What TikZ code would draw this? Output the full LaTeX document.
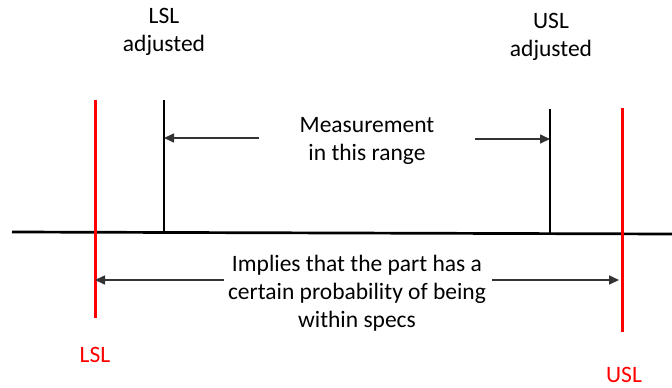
\documentclass[tikz,border=0pt]{standalone}
\usepackage{fontspec}
\setmainfont{Carlito}
\usetikzlibrary{arrows.meta}

\begin{document}
\begin{tikzpicture}[x=1pt,y=-1pt,
  lbl/.style={font=\fontsize{23.5}{28}\selectfont,align=center,inner sep=0pt},
  lim/.style={red,line width=3pt},
  adj/.style={black,line width=2.6pt},
  pnt/.style={-{Triangle[length=10pt,width=9pt]},line width=1.6pt,black!80}]
\useasboundingbox (0,0) rectangle (672,388);
% axis
\draw[line width=2.7pt] (12,232) -- (672,234);
% spec limits and adjusted limits
\draw[lim] (95,100) coordinate (lslT) -- (95,318) coordinate (lslB);
\draw[lim] (622,108) coordinate (uslT) -- (622,332) coordinate (uslB);
\draw[adj] (164,100) coordinate (adjL) -- (164,233);
\draw[adj] (550,109) coordinate (adjU) -- (550,234);
% labels
\node[lbl] (lsladj) at (164,32) {LSL\\adjusted};
\node[lbl] (usladj) at (551,37) {USL\\adjusted};
\node[lbl,red] (lsl) at (95,355) {LSL};
\node[lbl,red] (usl) at (624,375) {USL};
\node[lbl] (meas) at (367,141) {Measurement\\in this range};
\node[lbl] (impl) at (357,293) {Implies that the part has a\\certain probability of being\\within specs};
% arrows
\coordinate (mL) at (259,138);
\coordinate (mR) at (475,139);
\coordinate (iL) at (224,280);
\coordinate (iR) at (492,280);
\draw[pnt] (mL) -- (mL -| adjL);
\draw[pnt] (mR) -- (mR -| adjU);
\draw[pnt] (iL) -- (iL -| lslT);
\draw[pnt,shorten >=3pt] (iR) -- (iR -| uslT);
\end{tikzpicture}
\end{document}
